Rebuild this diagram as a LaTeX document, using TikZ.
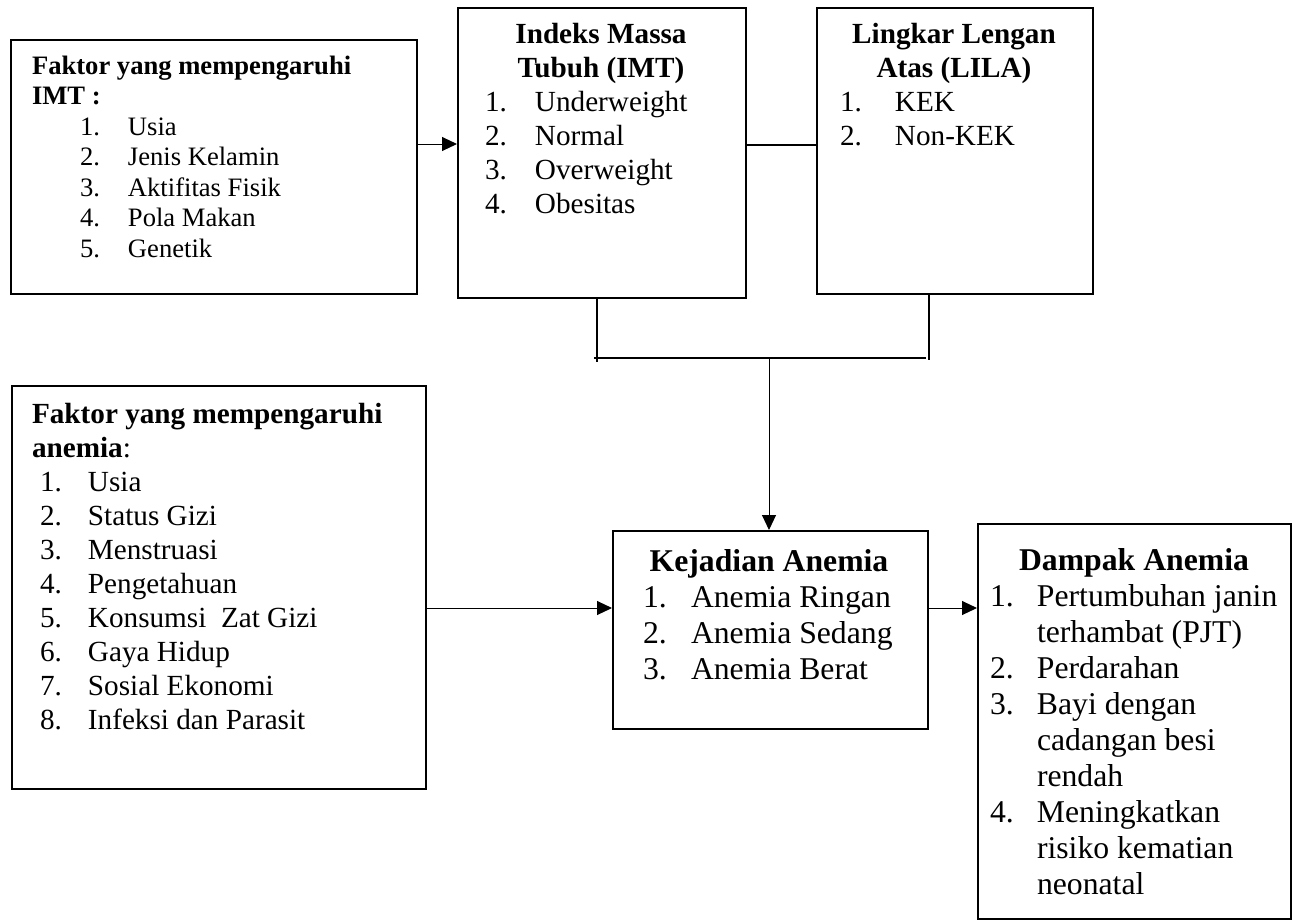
\documentclass[tikz,border=0pt]{standalone}
\usepackage{fontspec}
\setmainfont{Liberation Serif}
\usetikzlibrary{arrows.meta}
\newcommand\nb[2]{\makebox[#1pt][l]{#2}}
\begin{document}
\begin{tikzpicture}[x=1pt,y=-1pt,
  box/.style={draw, line width=1.6pt, inner sep=0pt, anchor=north west},
  txt/.style={anchor=base west, inner sep=0pt, outer sep=0pt},
  ctr/.style={anchor=base, inner sep=0pt, outer sep=0pt},
  fa/.style={font=\fontsize{26.6}{30}\selectfont},
  fb/.style={font=\fontsize{29.2}{34}\selectfont},
  fc/.style={font=\fontsize{31.7}{36}\selectfont},
  arr/.style={line width=1pt, -{Triangle[length=15pt,width=14pt]}},
  brk/.style={line width=2.2pt},
]
\useasboundingbox (0,0) rectangle (1296,922);

% boxes
\node[box, minimum width=406pt, minimum height=254pt] (fimt) at (10,39) {};
\node[box, minimum width=288pt, minimum height=290pt] (imt) at (457,7) {};
\node[box, minimum width=276pt, minimum height=286pt] (lila) at (816,7) {};
\node[box, minimum width=414pt, minimum height=403pt] (fan) at (11,385) {};
\node[box, minimum width=315pt, minimum height=198pt] (kej) at (612,530) {};
\node[box, minimum width=313pt, minimum height=395pt] (dam) at (977,523) {};

% box 1 text
\node[txt,fa] (a0) at (32,74) {\bfseries Faktor yang mempengaruhi};
\node[txt,fa] (a1) at (32,104.5) {\bfseries IMT :};
\node[txt,fa] (a2) at (80,135) {\nb{48}{1.}Usia};
\node[txt,fa] (a3) at (80,165.5) {\nb{48}{2.}Jenis Kelamin};
\node[txt,fa] (a4) at (80,196) {\nb{48}{3.}Aktifitas Fisik};
\node[txt,fa] (a5) at (80,226.5) {\nb{48}{4.}Pola Makan};
\node[txt,fa] (a6) at (80,257) {\nb{48}{5.}Genetik};

% IMT text
\node[ctr,fb] (b0) at (601,43) {\bfseries Indeks Massa};
\node[ctr,fb] (b1) at (601,77) {\bfseries Tubuh (IMT)};
\node[txt,fb] (b2) at (485,111) {\nb{50}{1.}Underweight};
\node[txt,fb] (b3) at (485,145) {\nb{50}{2.}Normal};
\node[txt,fb] (b4) at (485,179) {\nb{50}{3.}Overweight};
\node[txt,fb] (b5) at (485,213) {\nb{50}{4.}Obesitas};

% LILA text
\node[ctr,fb] (c0) at (954,43) {\bfseries Lingkar Lengan};
\node[ctr,fb] (c1) at (954,77) {\bfseries Atas (LILA)};
\node[txt,fb] (c2) at (840,111) {\nb{55}{1.}KEK};
\node[txt,fb] (c3) at (840,145) {\nb{55}{2.}Non-KEK};

% Faktor anemia text
\node[txt,fb] (d0) at (32,423) {\bfseries Faktor yang mempengaruhi};
\node[txt,fb] (d1) at (32,457) {{\bfseries anemia}:};
\node[txt,fb] (d2) at (40,491) {\nb{48}{1.}Usia};
\node[txt,fb] (d3) at (40,525) {\nb{48}{2.}Status Gizi};
\node[txt,fb] (d4) at (40,559) {\nb{48}{3.}Menstruasi};
\node[txt,fb] (d5) at (40,593) {\nb{48}{4.}Pengetahuan};
\node[txt,fb] (d6) at (40,627) {\nb{48}{5.}Konsumsi~ Zat Gizi};
\node[txt,fb] (d7) at (40,661) {\nb{48}{6.}Gaya Hidup};
\node[txt,fb] (d8) at (40,695) {\nb{48}{7.}Sosial Ekonomi};
\node[txt,fb] (d9) at (40,729) {\nb{48}{8.}Infeksi dan Parasit};

% Kejadian text
\node[ctr,fc] (e0) at (769,571) {\bfseries Kejadian Anemia};
\node[txt,fc] (e1) at (643,607) {\nb{48}{1.}Anemia Ringan};
\node[txt,fc] (e2) at (643,643) {\nb{48}{2.}Anemia Sedang};
\node[txt,fc] (e3) at (643,679) {\nb{48}{3.}Anemia Berat};

% Dampak text
\node[ctr,fc] (f0) at (1134,570) {\bfseries Dampak Anemia};
\node[txt,fc] (f1) at (990,606) {\nb{47}{1.}Pertumbuhan janin};
\node[txt,fc] (f2) at (1037,642) {terhambat (PJT)};
\node[txt,fc] (f3) at (990,678) {\nb{47}{2.}Perdarahan};
\node[txt,fc] (f4) at (990,714) {\nb{47}{3.}Bayi dengan};
\node[txt,fc] (f5) at (1037,750) {cadangan besi};
\node[txt,fc] (f6) at (1037,786) {rendah};
\node[txt,fc] (f7) at (990,822) {\nb{47}{4.}Meningkatkan};
\node[txt,fc] (f8) at (1037,858) {risiko kematian};
\node[txt,fc] (f9) at (1037,894) {neonatal};

% helper coordinates
\coordinate (y144) at (0,144);
\coordinate (y145) at (0,145);
\coordinate (y608) at (0,608);
\coordinate (bl) at (597,358);
\coordinate (br) at (929,358);
\coordinate (bm) at (769,358);

% connectors
\draw[arr] (fimt.east |- y144) -- (imt.west |- y144);
\draw[brk] (imt.east |- y145) -- (lila.west |- y145);
\draw[brk] (imt.south -| bl) -- ([yshift=-4pt]bl);
\draw[brk] (lila.south -| br) -- ([yshift=-2pt]br);
\draw[brk] ([xshift=-3pt]bl) -- ([xshift=-3pt]br);
\draw[arr] (bm) -- (kej.north -| bm);
\draw[arr] (fan.east |- y608) -- (kej.west |- y608);
\draw[arr] (kej.east |- y608) -- (dam.west |- y608);
\end{tikzpicture}
\end{document}
